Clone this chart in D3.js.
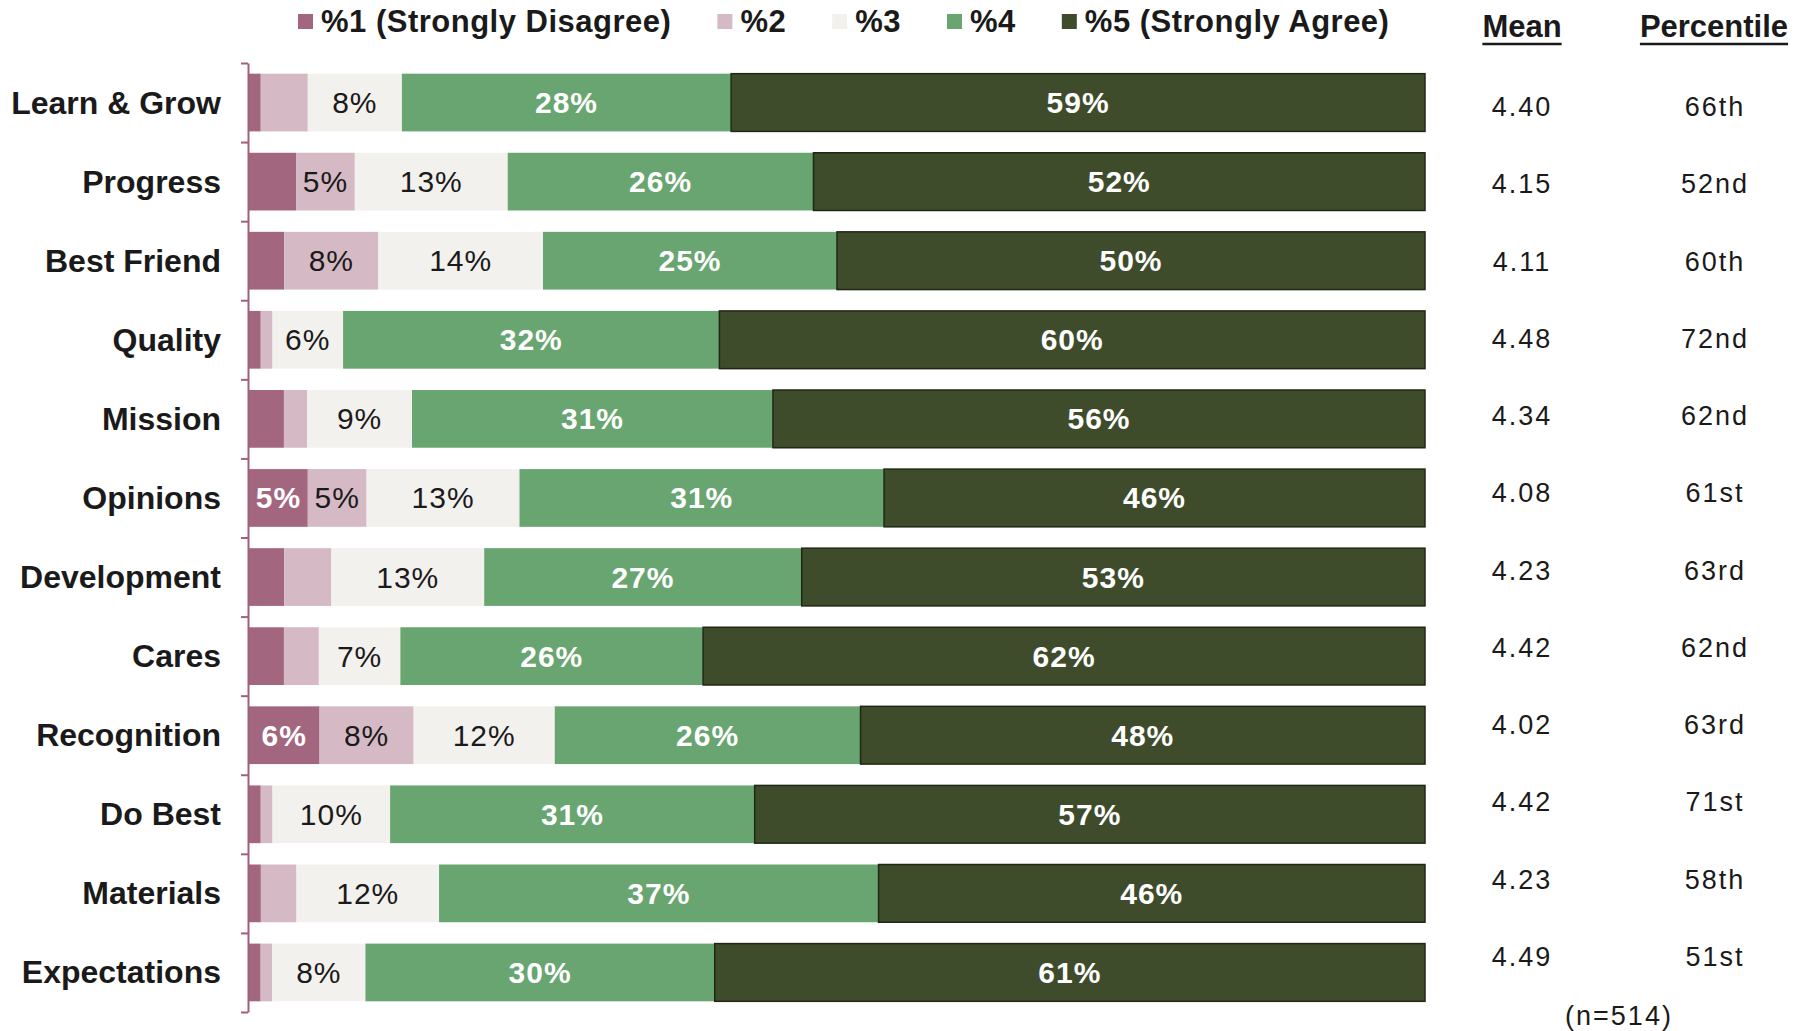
<!DOCTYPE html>
<html>
<head>
<meta charset="utf-8">
<script src="https://cdn.jsdelivr.net/npm/d3@7"></script>
<style>
  html, body { margin: 0; padding: 0; background: #ffffff; }
  svg { display: block; }
  text { font-family: "Liberation Sans", Arial, Helvetica, sans-serif; fill: #1b1a1a; }
</style>
</head>
<body>
<svg id="chart" width="1811" height="1031"></svg>
<script>
// Survey items, top to bottom
const categories = ["Learn & Grow", "Progress", "Best Friend", "Quality", "Mission", "Opinions",
  "Development", "Cares", "Recognition", "Do Best", "Materials", "Expectations"];

// Share of responses per rating (rounded percent; each row is scaled to a full bar)
const pct1 = [1, 4, 3, 1, 3, 5, 3, 3, 6, 1, 1, 1];
const pct2 = [4, 5, 8, 1, 2, 5, 4, 3, 8, 1, 3, 1];
const pct3 = [8, 13, 14, 6, 9, 13, 13, 7, 12, 10, 12, 8];
const pct4 = [28, 26, 25, 32, 31, 31, 27, 26, 26, 31, 37, 30];
const pct5 = [59, 52, 50, 60, 56, 46, 53, 62, 48, 57, 46, 61];

const means = ["4.40", "4.15", "4.11", "4.48", "4.34", "4.08", "4.23", "4.42", "4.02", "4.42", "4.23", "4.49"];
const percentiles = ["66th", "52nd", "60th", "72nd", "62nd", "61st", "63rd", "62nd", "63rd", "71st", "58th", "51st"];

const seriesKeys = ["p1", "p2", "p3", "p4", "p5"];
const seriesNames = ["%1 (Strongly Disagree)", "%2", "%3", "%4", "%5 (Strongly Agree)"];
const sampleNote = "(n=514)";

// Table for the stack layout
const rows = categories.map((c, i) => ({
  category: c, p1: pct1[i], p2: pct2[i], p3: pct3[i], p4: pct4[i], p5: pct5[i]
}));

const colors = ["#a3667f", "#d5bac6", "#f3f1ee", "#69a571", "#3e4c2b"];
const labelColors = ["#ffffff", "#1b1a1a", "#1b1a1a", "#ffffff", "#ffffff"];
const labelWeights = ["bold", "normal", "normal", "bold", "bold"];

const svg = d3.select("#chart");

const x = d3.scaleLinear().domain([0, 1]).range([249, 1425]);
const y = d3.scaleBand().domain(categories).range([63, 1012])
  .paddingInner(0.27).paddingOuter(0.135);
// boundaries between rows, for the axis ticks
const yEdge = d3.scaleLinear().domain([0, categories.length]).range([63, 1012]);
// rows of the mean / percentile columns
const yCol = d3.scalePoint().domain(categories).range([106, 956]);

// 100% stacked bars
const stack = d3.stack().keys(seriesKeys).offset(d3.stackOffsetExpand);
const series = stack(rows);

const layers = svg.append("g").selectAll("g")
  .data(series).join("g")
  .attr("fill", (d, i) => colors[i]);

layers.selectAll("rect")
  .data(d => d)
  .join("rect")
  .attr("x", d => x(d[0]))
  .attr("y", d => y(d.data.category))
  .attr("width", d => x(d[1]) - x(d[0]))
  .attr("height", y.bandwidth());

// dark outline on the strongly-agree segment
layers.filter((d, i) => i === 4).selectAll("rect")
  .attr("stroke", "#1f2814").attr("stroke-width", 1.5);

// Segment labels (shown for shares of 5% and up)
series.forEach((s, si) => {
  const key = seriesKeys[si];
  svg.append("g").selectAll("text")
    .data(s.filter(d => d.data[key] >= 5))
    .join("text")
    .attr("x", d => (x(d[0]) + x(d[1])) / 2)
    .attr("y", d => y(d.data.category) + y.bandwidth() / 2 + 10.5)
    .attr("text-anchor", "middle")
    .style("font-size", "30px")
    .style("letter-spacing", "1px")
    .style("font-weight", labelWeights[si])
    .style("fill", labelColors[si])
    .text(d => `${d.data[key]}%`);
});

// Left axis with ticks between rows
const axis = svg.append("g")
  .attr("transform", "translate(248,0)")
  .call(d3.axisLeft(yEdge).tickValues(d3.range(categories.length + 1))
    .tickFormat("").tickSize(7).tickSizeOuter(0));
axis.select(".domain").attr("stroke", "#a0607d").attr("stroke-width", 2);
axis.selectAll(".tick line").attr("stroke", "#a0607d").attr("stroke-width", 2);

// Category names
svg.append("g").selectAll("text")
  .data(categories).join("text")
  .attr("x", 221)
  .attr("y", d => y(d) + y.bandwidth() / 2 + 11)
  .attr("text-anchor", "end")
  .style("font-size", "32px")
  .style("font-weight", "bold")
  .text(d => d);

// Legend, laid out left to right
const legend = svg.append("g");
let lx = 298;
seriesNames.forEach((name, i) => {
  legend.append("rect").attr("x", lx).attr("y", 14).attr("width", 15).attr("height", 15)
    .attr("fill", colors[i]);
  const t = legend.append("text").attr("x", lx + 23).attr("y", 32)
    .style("font-size", "31px").style("font-weight", "bold").style("letter-spacing", "0.5px")
    .text(name);
  lx += 23 + t.node().getComputedTextLength() + 46;
});

// Column headers
const headers = [{ label: "Mean", cx: 1522 }, { label: "Percentile", cx: 1714 }];
headers.forEach(h => {
  const t = svg.append("text").attr("x", h.cx).attr("y", 37)
    .attr("text-anchor", "middle")
    .style("font-size", "31px").style("font-weight", "bold")
    .text(h.label);
  const w = t.node().getComputedTextLength();
  svg.append("line").attr("x1", h.cx - w / 2).attr("x2", h.cx + w / 2)
    .attr("y1", 44).attr("y2", 44).attr("stroke", "#1b1a1a").attr("stroke-width", 2.5);
});

// Mean and percentile columns
svg.append("g").selectAll("text")
  .data(categories).join("text")
  .attr("x", 1522).attr("y", d => yCol(d) + 10)
  .attr("text-anchor", "middle")
  .style("font-size", "27px").style("letter-spacing", "2px")
  .text((d, i) => means[i]);

svg.append("g").selectAll("text")
  .data(categories).join("text")
  .attr("x", 1715).attr("y", d => yCol(d) + 10)
  .attr("text-anchor", "middle")
  .style("font-size", "27px").style("letter-spacing", "2px")
  .text((d, i) => percentiles[i]);

svg.append("text").attr("x", 1619).attr("y", 1025)
  .attr("text-anchor", "middle")
  .style("font-size", "27px").style("letter-spacing", "2px")
  .text(sampleNote);
</script>
</body>
</html>
